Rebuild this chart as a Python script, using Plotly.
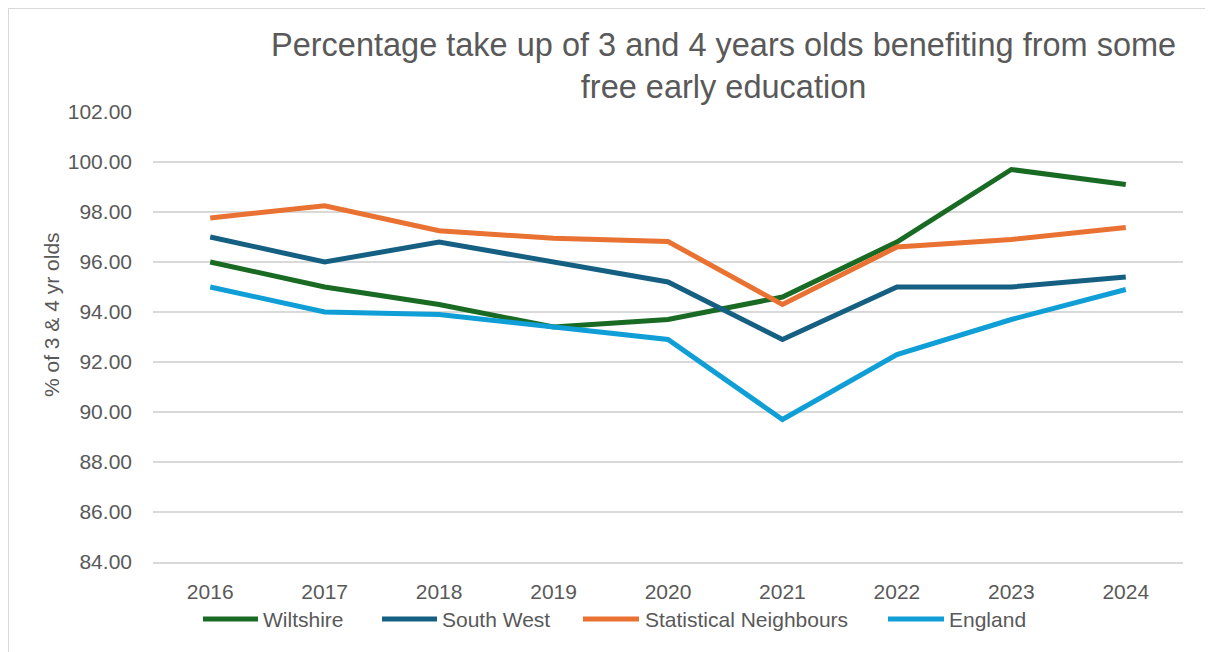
import plotly.graph_objects as go

years = ["2016", "2017", "2018", "2019", "2020", "2021", "2022", "2023", "2024"]

wiltshire = [96.0, 95.0, 94.3, 93.4, 93.7, 94.6, 96.8, 99.7, 99.1]
south_west = [97.0, 96.0, 96.8, 96.0, 95.2, 92.9, 95.0, 95.0, 95.4]
stat_neighbours = [97.76, 98.25, 97.25, 96.95, 96.82, 94.3, 96.6, 96.9, 97.38]
england = [95.0, 94.0, 93.9, 93.4, 92.9, 89.7, 92.3, 93.7, 94.9]

series = [
    ("Wiltshire", wiltshire, "#196B24"),
    ("South West", south_west, "#156082"),
    ("Statistical Neighbours", stat_neighbours, "#E97132"),
    ("England", england, "#0F9ED5"),
]

# the page body has an 8px margin, so the figure starts at (8, 8)
OFF = 8
W, H = 1213 - OFF, 652 - OFF
L, T = 153 - OFF, 112 - OFF
R = W - (1183 - OFF)
B = H - (562 - OFF)
PW, PH = W - L - R, H - T - B


def px_x(px):
    # page pixel -> paper x
    return (px - OFF - L) / PW


def px_y(py):
    # page pixel -> paper y
    return (H - B - (py - OFF)) / PH


TXT = "#595959"
FONT = "Liberation Sans, Arial, sans-serif"

fig = go.Figure()
for name, vals, col in series:
    fig.add_trace(go.Scatter(
        x=years, y=vals, mode="lines", name=name,
        line=dict(color=col, width=5),
        showlegend=False,
    ))

# hand-made legend (longer line samples than plotly's own)
legend_pos = [(203, 258, 261), (382, 437, 440), (583, 639, 643), (888, 944, 947)]
shapes = [dict(
    type="rect", xref="paper", yref="paper",
    x0=px_x(8), x1=px_x(1211), y0=px_y(662), y1=px_y(8),
    line=dict(color="#D9D9D9", width=2), fillcolor="rgba(0,0,0,0)", layer="below",
)]
annotations = []
for (name, vals, col), (a, b, t) in zip(series, legend_pos):
    shapes.append(dict(
        type="line", xref="paper", yref="paper",
        x0=px_x(a), x1=px_x(b), y0=px_y(619), y1=px_y(619),
        line=dict(color=col, width=5),
    ))
    annotations.append(dict(
        text=name, xref="paper", yref="paper", x=px_x(t), y=px_y(619),
        xanchor="left", yanchor="middle", showarrow=False,
        font=dict(size=21, color=TXT, family=FONT),
    ))

annotations.append(dict(
    text="Percentage take up of 3 and 4 years olds benefiting from some<br>free early education",
    xref="paper", yref="paper", x=px_x(723), y=px_y(66), xanchor="center", yanchor="middle",
    showarrow=False, font=dict(size=32.5, color=TXT, family=FONT),
))
annotations.append(dict(
    text="% of 3 & 4 yr olds", xref="paper", yref="paper", x=px_x(51), y=px_y(315),
    xanchor="center", yanchor="middle", textangle=-90, showarrow=False,
    font=dict(size=21, color=TXT, family=FONT),
))

fig.update_layout(
    width=W, height=H,
    margin=dict(l=L, r=R, t=T, b=B),
    paper_bgcolor="white", plot_bgcolor="white",
    font=dict(family=FONT, size=21, color=TXT),
    shapes=shapes,
    annotations=annotations,
)
fig.update_xaxes(
    type="category", range=[-0.5, 8.5], showgrid=False,
    showline=True, linecolor="#D9D9D9", linewidth=2,
    ticks="", ticklabelstandoff=10,
    tickfont=dict(size=21, color=TXT),
)
fig.update_yaxes(
    range=[84, 102], dtick=2, tick0=84, tickformat=".2f",
    showgrid=True, gridcolor="#D9D9D9", gridwidth=2,
    zeroline=False, showline=False, ticks="", ticklabelstandoff=20,
    tickfont=dict(size=21, color=TXT),
)

fig.write_html("out.html")
